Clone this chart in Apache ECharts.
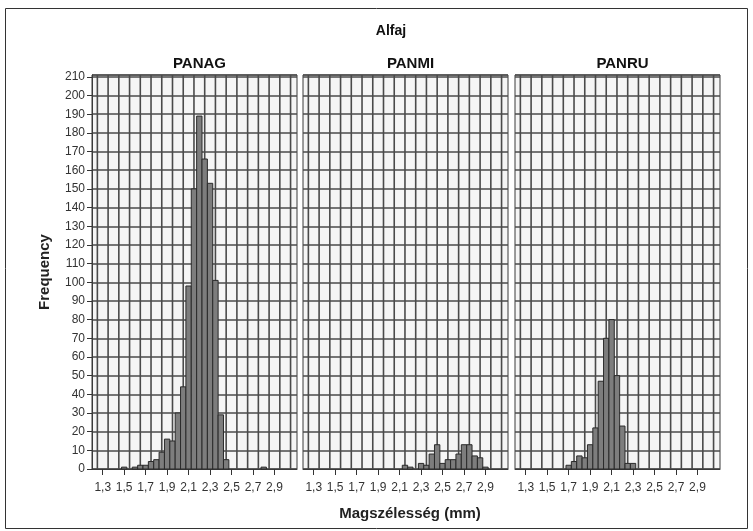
<!DOCTYPE html>
<html><head><meta charset="utf-8">
<script src="https://cdn.jsdelivr.net/npm/echarts@6/dist/echarts.min.js"></script>
<style>html,body{margin:0;padding:0;background:#fff}#c{width:753px;height:531px}</style>
</head><body><div id="c"></div>
<script>
// ---- data ----
const chartTitle = 'Alfaj';
const panels = ['PANAG', 'PANMI', 'PANRU'];
const xTitle = 'Magszélesség (mm)';
const yTitle = 'Frequency';
const binWidth = 0.05;

const panagX = [1.5, 1.6, 1.65, 1.7, 1.75, 1.8, 1.85, 1.9, 1.95, 2.0, 2.05, 2.1, 2.15, 2.2, 2.25, 2.3, 2.35, 2.4, 2.45, 2.8];
const panagY = [1, 1, 2, 2, 4, 5, 9, 16, 15, 30, 44, 98, 150, 189, 166, 153, 101, 29, 5, 1];

const panmiX = [2.15, 2.2, 2.3, 2.35, 2.4, 2.45, 2.5, 2.55, 2.6, 2.65, 2.7, 2.75, 2.8, 2.85, 2.9];
const panmiY = [2, 1, 3, 2, 8, 13, 3, 5, 5, 8, 13, 13, 7, 6, 1];

const panruX = [1.7, 1.75, 1.8, 1.85, 1.9, 1.95, 2.0, 2.05, 2.1, 2.15, 2.2, 2.25, 2.3];
const panruY = [2, 4, 7, 6, 13, 22, 47, 70, 80, 50, 23, 3, 3];

const xTicks = [1.3, 1.5, 1.7, 1.9, 2.1, 2.3, 2.5, 2.7, 2.9];
const xGridLines = [1.25, 1.35, 1.45, 1.55, 1.65, 1.75, 1.85, 1.95, 2.05, 2.15, 2.25, 2.35, 2.45, 2.55, 2.65, 2.75, 2.85, 2.95, 3.05];
const xMin = 1.2, xMax = 3.11;
const yMin = 0, yMax = 211, yStep = 10;

// ---- chart ----
const seriesData = [
  panagX.map((x, i) => [x, panagY[i]]),
  panmiX.map((x, i) => [x, panmiY[i]]),
  panruX.map((x, i) => [x, panruY[i]])
];

const font = 'Liberation Sans, Arial, sans-serif';
const gridColor = '#4a4a4a';
const gridLefts = [92, 303, 515];
const panelW = 205;

function renderBar(params, api) {
  const x = api.value(0), y = api.value(1);
  const p0 = api.coord([x - binWidth / 2, y]);
  const p1 = api.coord([x + binWidth / 2, 0]);
  return {
    type: 'rect',
    shape: { x: p0[0], y: p0[1], width: p1[0] - p0[0], height: p1[1] - p0[1] },
    style: { fill: '#7d7d7d', stroke: '#2a2a2a', lineWidth: 1 }
  };
}
function renderGridLine(params, api) {
  const cs = params.coordSys;
  const px = api.coord([api.value(0), 0])[0];
  return {
    type: 'line',
    shape: { x1: px, y1: cs.y, x2: px, y2: cs.y + cs.height },
    style: { stroke: gridColor, lineWidth: 1.6 }
  };
}

const grids = [], xAxes = [], yAxes = [], series = [], titles = [];
panels.forEach((name, i) => {
  grids.push({ left: gridLefts[i], width: panelW, top: 75, height: 394, show: true,
    backgroundColor: '#f5f5f5', borderColor: '#3a3a3a', borderWidth: 1 });
  xAxes.push({
    type: 'value', gridIndex: i, min: xMin, max: xMax,
    splitLine: { show: false },
    axisLine: { show: true, onZero: false, lineStyle: { color: '#3a3a3a' } },
    axisTick: { show: true, length: 6, customValues: xTicks, lineStyle: { color: '#333' } },
    axisLabel: { show: true, customValues: xTicks, margin: 13, color: '#333', fontSize: 12, fontFamily: font,
      formatter: v => v.toFixed(1).replace('.', ',') }
  });
  yAxes.push({
    type: 'value', gridIndex: i, min: yMin, max: yMax, interval: yStep,
    name: i === 0 ? yTitle : '', nameLocation: 'middle', nameGap: 40,
    nameTextStyle: { fontSize: 15, fontWeight: 'bold', color: '#222', fontFamily: font },
    splitLine: { show: true, lineStyle: { color: gridColor, width: 1.6 } },
    axisLine: { show: i === 0, lineStyle: { color: '#3a3a3a' } },
    axisTick: { show: i === 0, length: 5, lineStyle: { color: '#333' } },
    axisLabel: { show: i === 0, margin: 7, color: '#333', fontSize: 12, fontFamily: font }
  });
  series.push({
    type: 'custom', xAxisIndex: i, yAxisIndex: i, z: 1, silent: true,
    renderItem: renderGridLine, data: xGridLines.map(v => [v, 0])
  });
  series.push({
    type: 'custom', xAxisIndex: i, yAxisIndex: i, z: 3,
    renderItem: renderBar, data: seriesData[i]
  });
  titles.push({ text: name, left: gridLefts[i] + panelW / 2, top: 51, textAlign: 'center',
    textStyle: { fontSize: 15, fontWeight: 'bold', color: '#111', fontFamily: font } });
});
titles.push({ text: chartTitle, left: 386, top: 19, textAlign: 'center',
  textStyle: { fontSize: 14, fontWeight: 'bold', color: '#111', fontFamily: font } });
titles.push({ text: xTitle, left: 405, top: 501, textAlign: 'center',
  textStyle: { fontSize: 15, fontWeight: 'bold', color: '#222', fontFamily: font } });

const chart = echarts.init(document.getElementById('c'), null, { renderer: 'canvas' });
chart.setOption({
  backgroundColor: '#fff',
  animation: false,
  title: titles,
  grid: grids, xAxis: xAxes, yAxis: yAxes, series: series,
  graphic: [{ type: 'rect', shape: { x: 5.5, y: 8.5, width: 742, height: 520 },
    style: { fill: 'none', stroke: '#333', lineWidth: 1 }, silent: true }]
});
</script></body></html>
